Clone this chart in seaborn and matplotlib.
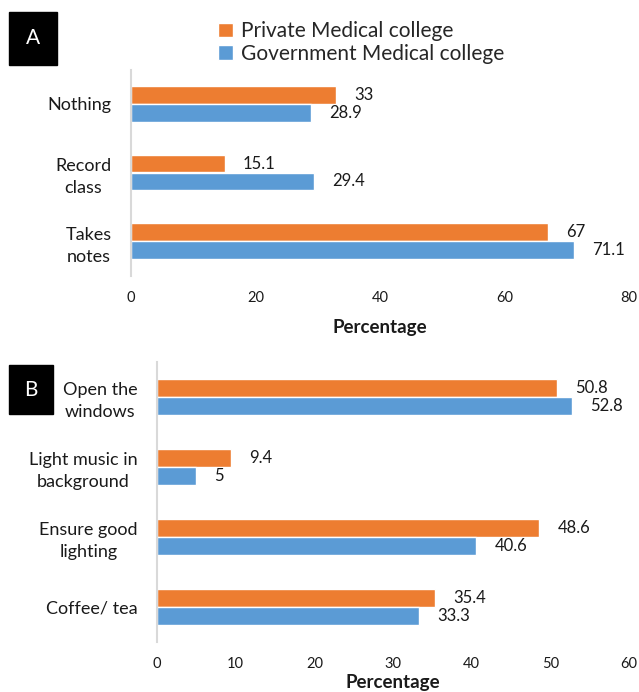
import pandas as pd
import numpy as np
import matplotlib.pyplot as plt
import seaborn as sns
from matplotlib.patches import Rectangle

# Data
series = ["Private Medical college", "Government Medical college"]
colors = ["#ED7D31", "#5B9BD5"]

cats_a = ["Nothing", "Record\nclass", "Takes\nnotes"]
private_a = [33, 15.1, 67]
govt_a = [28.9, 29.4, 71.1]

cats_b = ["Open the\nwindows", "Light music in\nbackground", "Ensure good\nlighting", "Coffee/ tea"]
private_b = [50.8, 9.4, 48.6, 35.4]
govt_b = [52.8, 5, 40.6, 33.3]


def make_df(cats, priv, govt):
    return pd.DataFrame({
        "category": cats * 2,
        "value": priv + govt,
        "college": [series[0]] * len(cats) + [series[1]] * len(cats),
    })


sns.set_theme(style="white")
plt.rcParams['font.family'] = ['Lato', 'DejaVu Sans']

W, H = 639, 692
fig = plt.figure(figsize=(W / 100, H / 100), dpi=100)

# axes positions in pixels: left, top, right, bottom
ax_a = fig.add_axes([131 / W, 1 - 275.5 / H, (629 - 131) / W, 206 / H])
ax_b = fig.add_axes([157 / W, 1 - 642 / H, (629 - 157) / W, 280 / H])

panels = [
    (ax_a, make_df(cats_a, private_a, govt_a), 80, 20, -0.21),
    (ax_b, make_df(cats_b, private_b, govt_b), 60, 10, -0.115),
]

for ax, df, xmax, step, label_y in panels:
    sns.barplot(data=df, y="category", x="value", hue="college",
                hue_order=series, palette=colors, orient="h",
                width=0.52, ax=ax, legend=True, saturation=1)
    for cont in ax.containers:
        ax.bar_label(cont, fmt="%g", padding=13, fontsize=12, color="#1a1a1a")
    ax.set_xlim(0, xmax)
    ax.set_xticks(np.arange(0, xmax + 1, step))
    ax.tick_params(axis="x", length=0, pad=11, labelsize=10.5, colors="#1a1a1a")
    ax.tick_params(axis="y", length=0, pad=14, labelsize=13, colors="#1a1a1a")
    for t in ax.get_yticklabels():
        t.set_multialignment("center")
        t.set_linespacing(1.45)
    ax.set_ylabel("")
    ax.set_xlabel("Percentage", fontsize=13.5, fontweight="bold", color="#1a1a1a")
    ax.xaxis.set_label_coords(0.5, label_y)
    ax.xaxis.label.set_va("top")
    for s in ["top", "right", "bottom"]:
        ax.spines[s].set_visible(False)
    ax.spines["left"].set_color("#D9D9D9")
    ax.spines["left"].set_linewidth(1.5)
    ax.get_legend().remove()

handles, labels = ax_a.get_legend_handles_labels()
fig.legend(handles, labels, loc="upper left", bbox_to_anchor=(210 / W, 1 - 13 / H),
           frameon=False, fontsize=15, handlelength=0.7, handleheight=0.7,
           handletextpad=0.4, labelspacing=0.12, borderaxespad=0)

# panel tags
for x0, y0, x1, y1, tag in [(9, 12, 57, 65, "A"), (9, 365, 53, 414, "B")]:
    fig.add_artist(Rectangle((x0 / W, 1 - y1 / H), (x1 - x0) / W, (y1 - y0) / H,
                             transform=fig.transFigure, color="black"))
    fig.text((x0 + x1) / 2 / W, 1 - (y0 + y1) / 2 / H, tag, color="white",
             fontsize=15, ha="center", va="center")

fig.savefig("out.png", dpi=100)
